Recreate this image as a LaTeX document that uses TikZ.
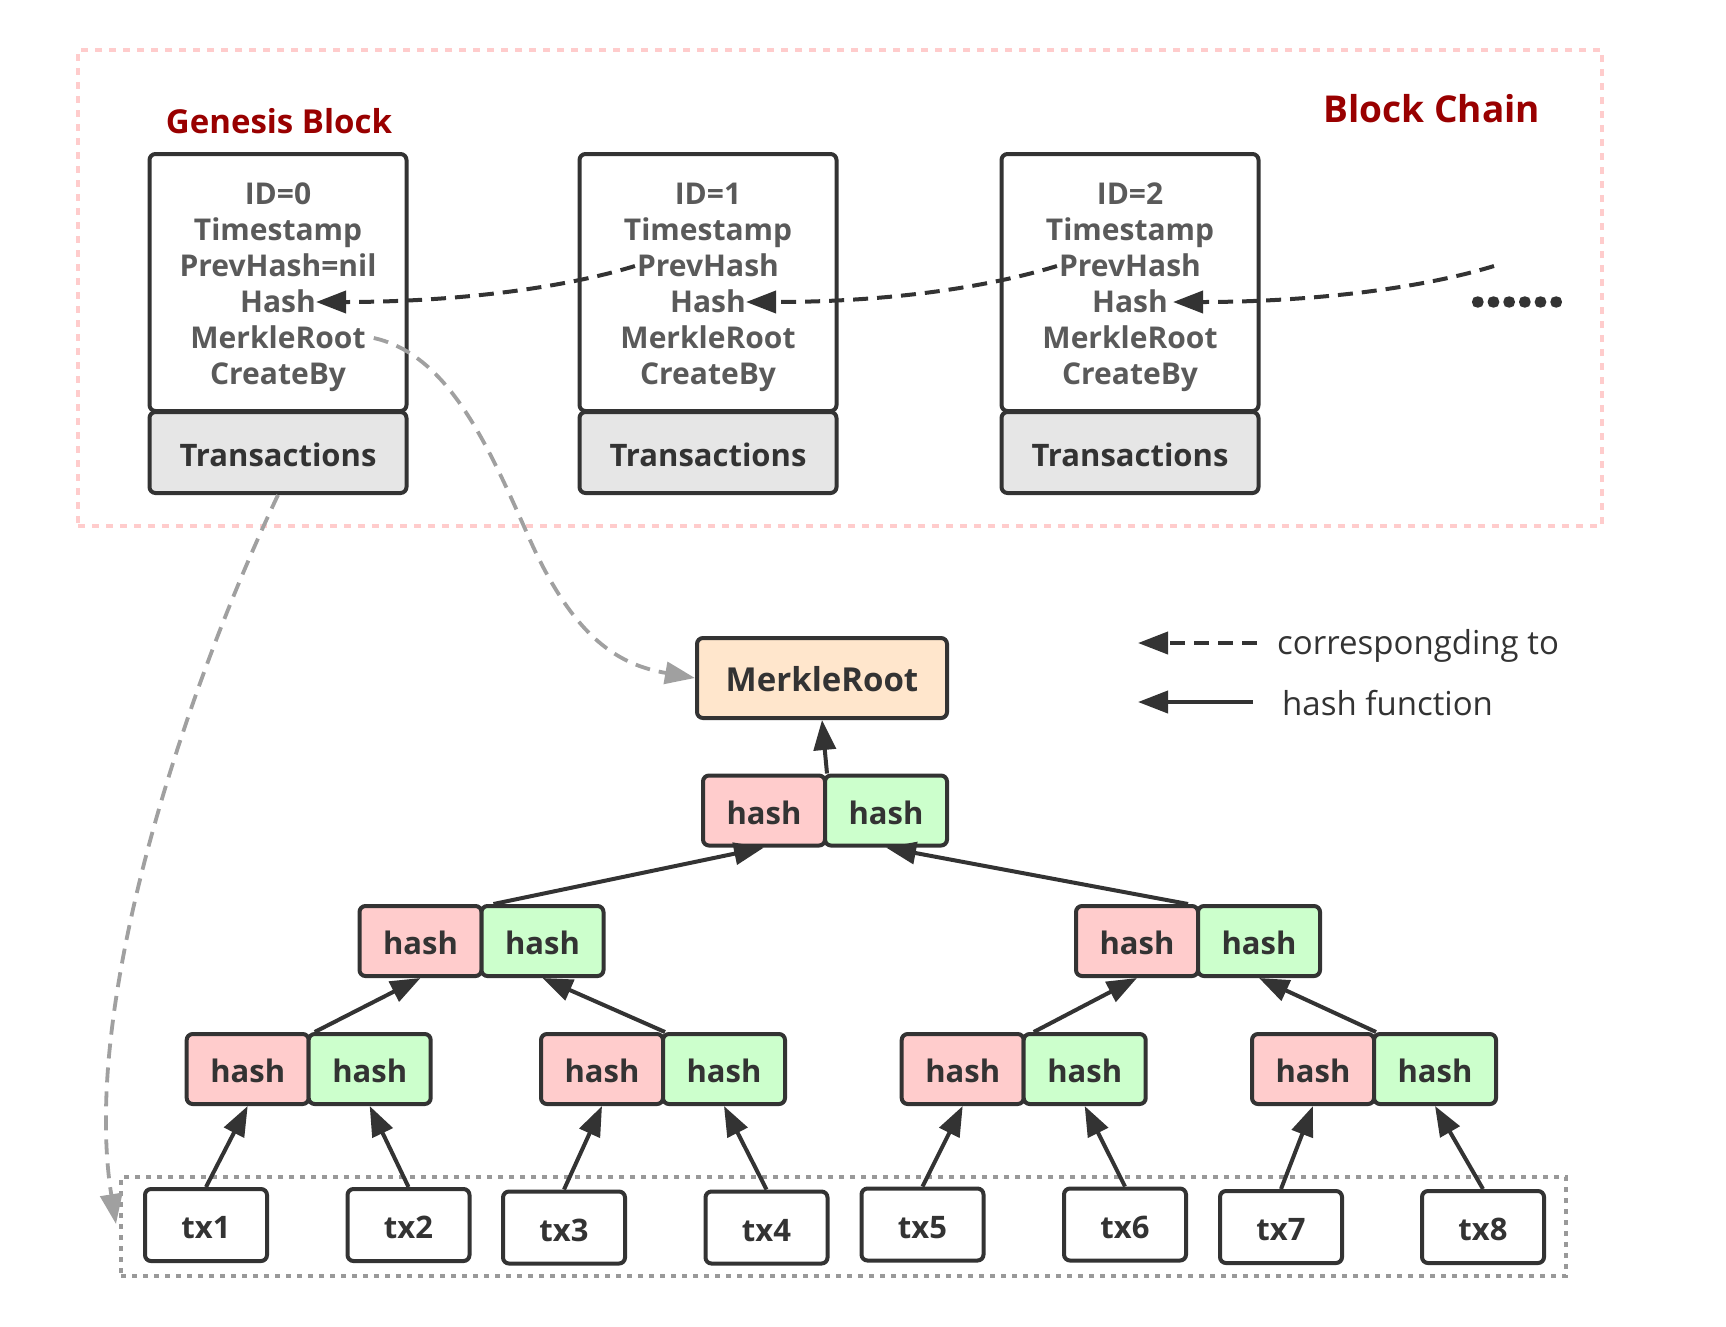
\documentclass[tikz,border=0pt]{standalone}
\usepackage{fontspec}
\setmainfont{Open Sans}
\usetikzlibrary{arrows.meta}
\definecolor{ink}{HTML}{333333}
\definecolor{fieldgray}{HTML}{5A5A5A}
\definecolor{dred}{HTML}{990000}
\definecolor{pinkfill}{HTML}{FFCCCC}
\definecolor{greenfill}{HTML}{CCFFCC}
\definecolor{peach}{HTML}{FFE6CC}
\definecolor{lgray}{HTML}{E6E6E6}
\definecolor{dashgray}{HTML}{A0A0A0}
\definecolor{dotgray}{HTML}{999999}
\definecolor{pinkline}{HTML}{FFCCCC}
\begin{document}
\begin{tikzpicture}[x=1pt,y=-1pt,
  box/.style={draw=ink, line width=4pt, rounded corners=6pt, inner sep=0pt},
  field/.style={font=\fontsize{30pt}{30pt}\selectfont\bfseries, text=fieldgray, inner sep=2pt, text height=27pt, text depth=6pt},
  lbl/.style={font=\fontsize{31pt}{31pt}\selectfont\bfseries, text=ink, text height=27pt, text depth=0pt},
  half/.style={box, lbl, minimum width=122pt, minimum height=70pt},
  txbox/.style={box, lbl, fill=white, minimum width=122pt, minimum height=72pt},
  blockbox/.style={box, minimum width=257pt},
  hashfn/.style={draw=ink, line width=4pt, -{Triangle[length=30pt,width=22pt]}},
  corr/.style={hashfn, dash pattern=on 15pt off 9pt},
  gcorr/.style={draw=dashgray, line width=3.8pt, dash pattern=on 15pt off 9pt, -{Triangle[length=30pt,width=22pt]}},
  legend/.style={font=\fontsize{33pt}{33pt}\selectfont, text=ink, inner sep=0pt},
  title/.style={font=\bfseries, text=dred, inner sep=0pt}
]
\useasboundingbox (0,0) rectangle (1726,1326);

% containers
\node[draw=pinkline, line width=3.5pt, dash pattern=on 7pt off 7pt, minimum width=1524pt, minimum height=476pt, inner sep=0pt] (chain) at (840,288) {};
\node[draw=dotgray, line width=3.5pt, dash pattern=on 5pt off 6pt, minimum width=1445pt, minimum height=99pt, inner sep=0pt] (txs) at (843.5,1226.5) {};

% titles
\node[title, font=\fontsize{33pt}{33pt}\selectfont\bfseries, anchor=base] (gen) at (279,133) {Genesis Block};
\node[title, font=\fontsize{37pt}{37pt}\selectfont\bfseries, anchor=base] (bc) at (1432,122) {Block Chain};

% blocks
\foreach \i/\cx in {0/278, 1/708, 2/1130} {
  \node[blockbox, minimum height=257pt] (b\i) at (\cx,282.5) {};
  \node[blockbox, fill=lgray, minimum height=81pt, lbl] (b\i tx) at (\cx,452.5) {Transactions};
  \node[field] (b\i ts) at (\cx,230) {Timestamp};
  \node[field] (b\i hash) at (\cx,302) {Hash};
  \node[field] (b\i mr) at (\cx,338) {MerkleRoot};
  \node[field] (b\i cb) at (\cx,374) {CreateBy};
}
\node[field] (b0id) at (278,194) {ID=0};
\node[field] (b1id) at (708,194) {ID=1};
\node[field] (b2id) at (1130,194) {ID=2};
\node[field] (b0prev) at (278,266) {PrevHash=nil};
\node[field] (b1prev) at (708,266) {PrevHash};
\node[field] (b2prev) at (1130,266) {PrevHash};

\node[font=\fontsize{55pt}{55pt}\selectfont\bfseries\addfontfeature{FakeBold=4}, text=ink, inner sep=0pt] (more) at (1517,302) {......};
\coordinate (morestart) at (1494,266);

% chain links
\draw[corr] (b1prev.west) .. controls +(-78,24) and +(130,0) .. ([xshift=-2pt]b0hash.east);
\draw[corr] (b2prev.west) .. controls +(-78,24) and +(130,0) .. ([xshift=-2pt]b1hash.east);
\draw[corr] (morestart) .. controls +(-78,24) and +(130,0) .. ([xshift=3pt]b2hash.east);

% merkle root
\node[box, lbl, fill=peach, minimum width=250pt, minimum height=80pt, font=\fontsize{33pt}{33pt}\selectfont\bfseries] (mr) at (822,678) {MerkleRoot};

% tree level 1
\node[half, fill=pinkfill] (L1a) at (764,810.5) {hash};
\node[half, fill=greenfill] (L1b) at (886,810.5) {hash};
% level 2
\node[half, fill=pinkfill] (L2a) at (420.5,941) {hash};
\node[half, fill=greenfill] (L2b) at (542.5,941) {hash};
\node[half, fill=pinkfill] (L2c) at (1137,941) {hash};
\node[half, fill=greenfill] (L2d) at (1259,941) {hash};
% level 3
\node[half, fill=pinkfill] (L3a) at (247.7,1069) {hash};
\node[half, fill=greenfill] (L3b) at (369.7,1069) {hash};
\node[half, fill=pinkfill] (L3c) at (602,1069) {hash};
\node[half, fill=greenfill] (L3d) at (724,1069) {hash};
\node[half, fill=pinkfill] (L3e) at (962.7,1069) {hash};
\node[half, fill=greenfill] (L3f) at (1084.7,1069) {hash};
\node[half, fill=pinkfill] (L3g) at (1313,1069) {hash};
\node[half, fill=greenfill] (L3h) at (1435,1069) {hash};

% transactions
\node[txbox] (tx1) at (206,1225) {tx1};
\node[txbox] (tx2) at (408.5,1225) {tx2};
\node[txbox] (tx3) at (564,1227.5) {tx3};
\node[txbox] (tx4) at (766.5,1227.5) {tx4};
\node[txbox] (tx5) at (922.5,1224.5) {tx5};
\node[txbox] (tx6) at (1125,1224.5) {tx6};
\node[txbox] (tx7) at (1281,1227) {tx7};
\node[txbox] (tx8) at (1483,1227) {tx8};

% hash function arrows
\draw[hashfn] (tx1.north) -- (L3a.south);
\draw[hashfn] (tx2.north) -- (L3b.south);
\draw[hashfn] (tx3.north) -- (L3c.south);
\draw[hashfn] (tx4.north) -- (L3d.south);
\draw[hashfn] (tx5.north) -- (L3e.south);
\draw[hashfn] (tx6.north) -- (L3f.south);
\draw[hashfn] (tx7.north) -- (L3g.south);
\draw[hashfn] (tx8.north) -- (L3h.south);
\draw[hashfn] ([xshift=4pt]L3a.north east) -- (L2a.south);
\draw[hashfn] (L3c.north east) -- (L2b.south);
\draw[hashfn] ([xshift=8pt]L3e.north east) -- (L2c.south);
\draw[hashfn] (L3g.north east) -- (L2d.south);
\draw[hashfn] ([xshift=10pt]L2a.north east) -- (L1a.south);
\draw[hashfn] ([xshift=-12pt]L2c.north east) -- (L1b.south);
\draw[hashfn] (L1a.north east) -- (mr.south);

% correspondence (gray)
\draw[gcorr] ([xshift=6pt]b0mr.east) .. controls (450,355) and (490,450) .. (530,540) .. controls (575,640) and (620,665) .. (mr.west);
\coordinate (txsin) at (116,1224);
\draw[gcorr] (b0tx.south) .. controls (190,680) and (80,1000) .. (txsin);

% legend
\node[legend, anchor=base west] (lg1) at (1277,654) {correspongding to};
\node[legend, anchor=base west] (lg2) at (1282,715) {hash function};
\coordinate (lg1s) at (1257,643);
\coordinate (lg1e) at (1138,643);
\coordinate (lg2s) at (1253,702);
\coordinate (lg2e) at (1138,702);
\draw[corr] (lg1s) -- (lg1e);
\draw[hashfn] (lg2s) -- (lg2e);
\end{tikzpicture}
\end{document}
